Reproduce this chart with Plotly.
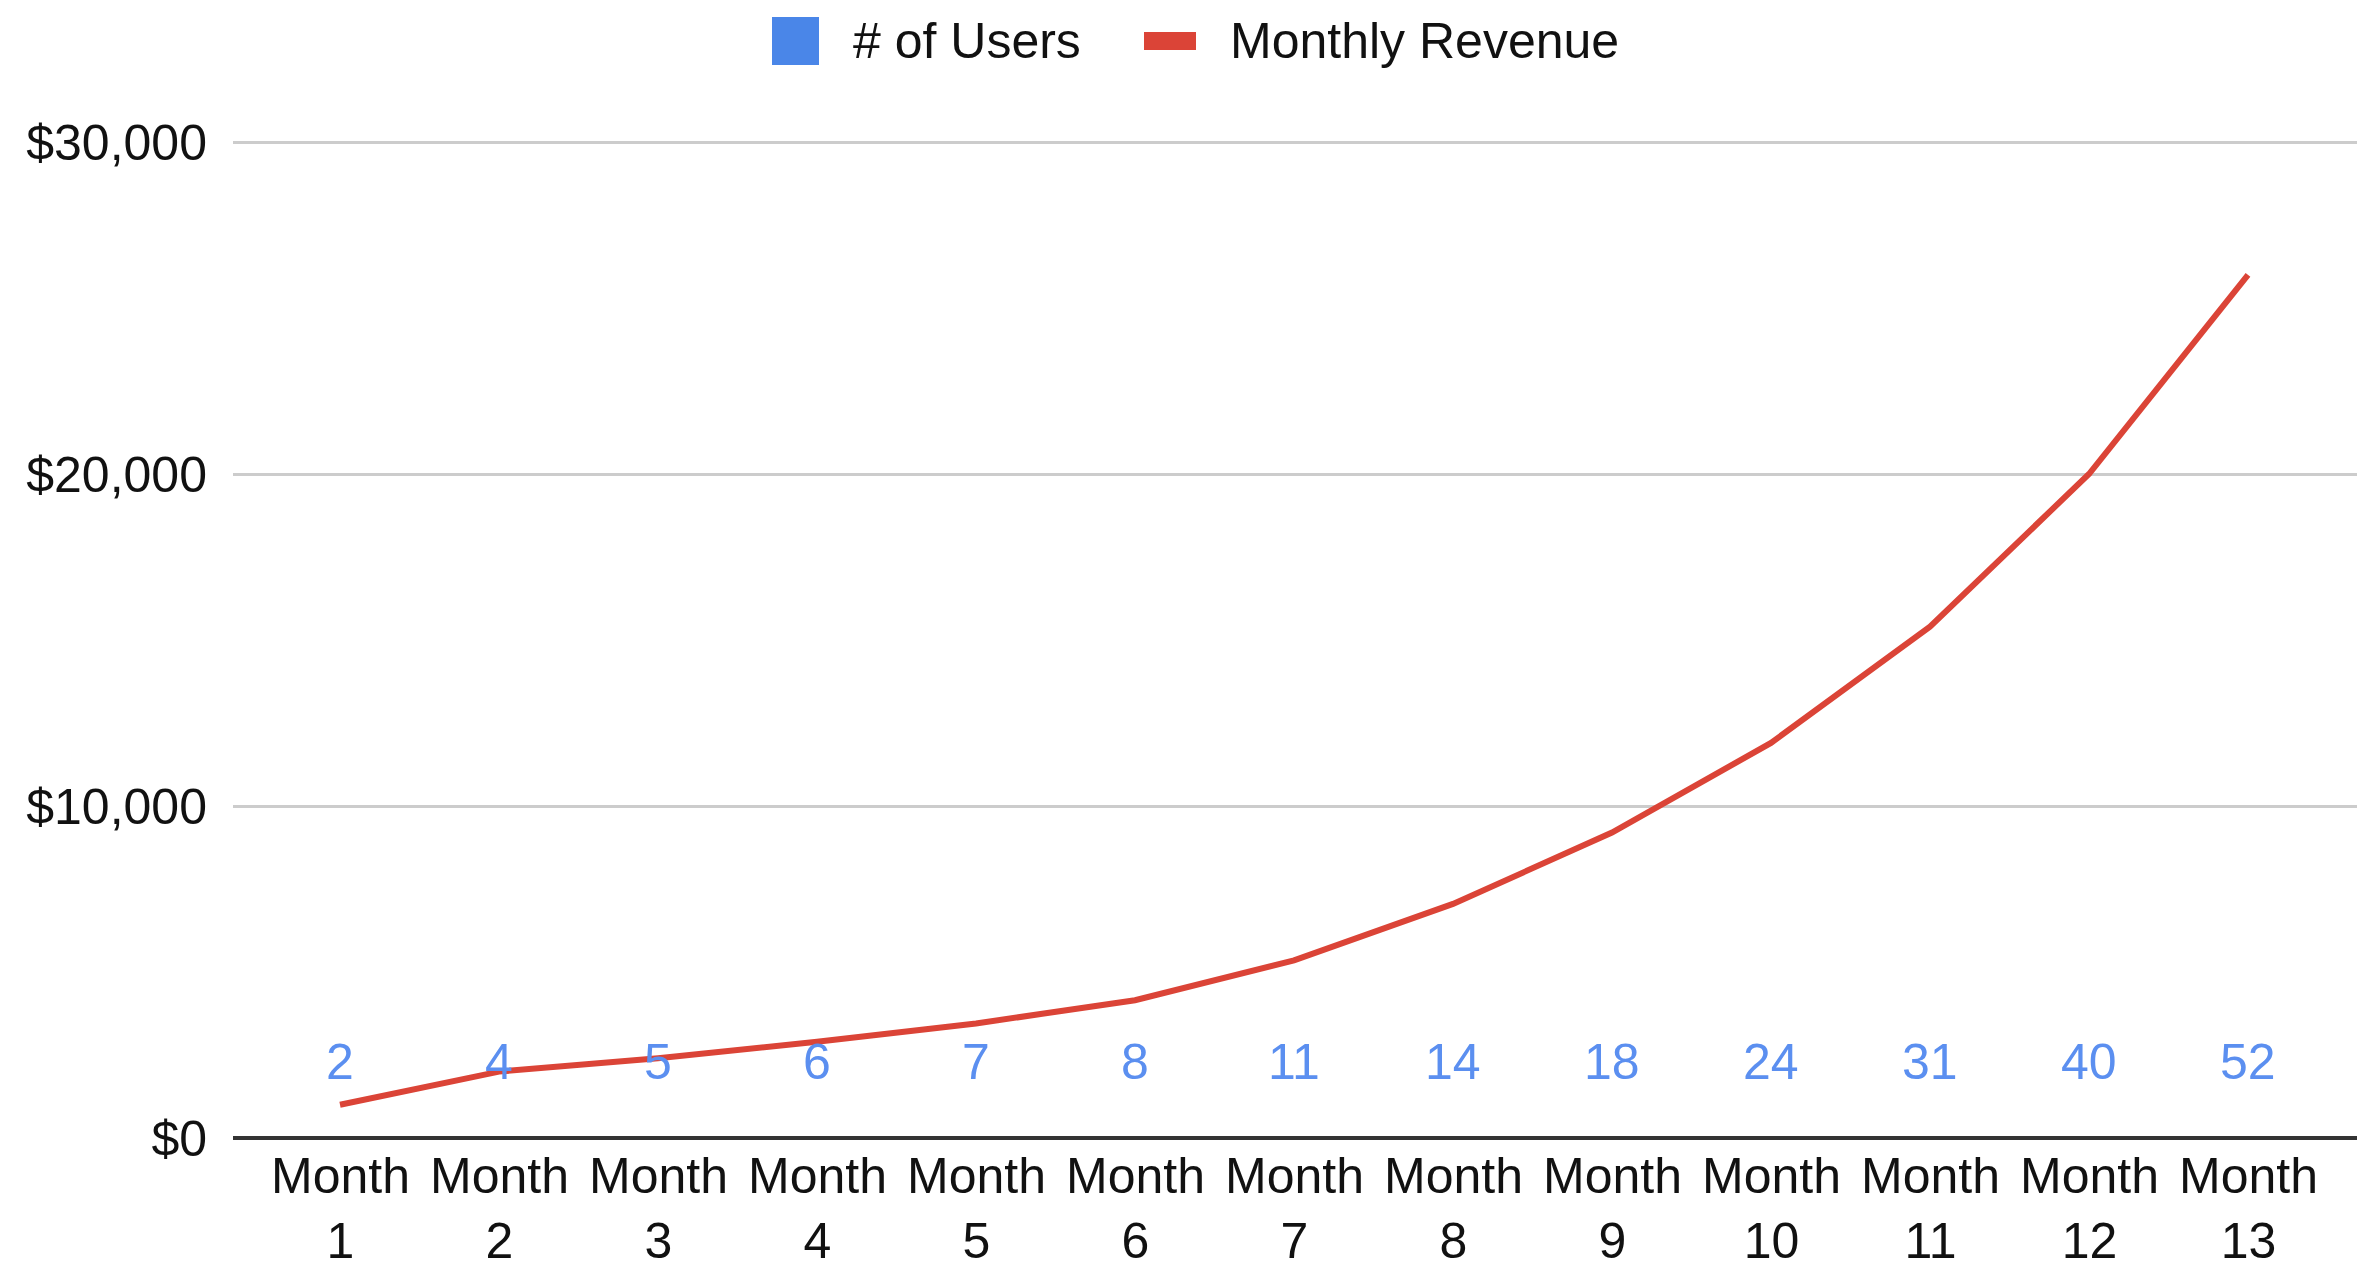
import plotly.graph_objects as go

months = ["Month 1", "Month 2", "Month 3", "Month 4", "Month 5", "Month 6", "Month 7",
          "Month 8", "Month 9", "Month 10", "Month 11", "Month 12", "Month 13"]
month_labels = ["Month<br>1", "Month<br>2", "Month<br>3", "Month<br>4", "Month<br>5",
                "Month<br>6", "Month<br>7", "Month<br>8", "Month<br>9", "Month<br>10",
                "Month<br>11", "Month<br>12", "Month<br>13"]
users = [2, 4, 5, 6, 7, 8, 11, 14, 18, 24, 31, 40, 52]
revenue = [1000, 2000, 2400, 2900, 3450, 4150, 5350, 7050, 9200, 11900, 15400, 20000, 26000]
ytick_vals = [0, 10000, 20000, 30000]
ytick_text = ["$0", "$10,000", "$20,000", "$30,000"]

FONT = "Liberation Sans, Arial, sans-serif"
FS = 50
BLUE = "#4a86e8"
LABEL_BLUE = "#5b8ff0"
RED = "#db4437"
TXT = "#111111"

W, H = 2362, 1275
PLOT_TOP = 132          # slightly above the $30,000 gridline (142)
ZERO = 1138
ML = 233
MR = 5
MT = PLOT_TOP
MB = H - ZERO
PW = W - ML - MR
PH = H - MT - MB
YMAX = 30000 * (ZERO - PLOT_TOP) / (ZERO - 142)
STEP = 159.0            # pixel distance between month categories
FIRST = 340.0           # pixel x of Month 1


def px_x(p):
    return (p - ML) / PW


def px_y(p):
    return (ZERO - p) / PH


fig = go.Figure()
fig.add_trace(go.Bar(x=months, y=users, name="# of Users", marker_color=BLUE,
                     marker_line_width=0, showlegend=False))
fig.add_trace(go.Scatter(x=months, y=revenue, name="Monthly Revenue", mode="lines",
                         line=dict(color=RED, width=6), showlegend=False))

annotations = []
for m, u in zip(months, users):
    annotations.append(dict(x=m, y=0, xref="x", yref="y", text=str(u), showarrow=False,
                            yanchor="middle", yshift=76,
                            font=dict(family=FONT, size=FS, color=LABEL_BLUE)))
for m, lab in zip(months, month_labels):
    annotations.append(dict(x=m, y=0, xref="x", yref="paper", text=lab, showarrow=False,
                            yanchor="middle", yshift=-(1208 - ZERO),
                            font=dict(family=FONT, size=FS, color=TXT)))

# legend (manual)
annotations.append(dict(x=px_x(851), y=px_y(41), xref="paper", yref="paper",
                        text="# of Users", showarrow=False, xanchor="left", yanchor="middle",
                        font=dict(family=FONT, size=FS, color=TXT)))
annotations.append(dict(x=px_x(1228), y=px_y(41), xref="paper", yref="paper",
                        text="Monthly Revenue", showarrow=False, xanchor="left", yanchor="middle",
                        font=dict(family=FONT, size=FS, color=TXT)))

shapes = [
    dict(type="rect", xref="paper", yref="paper", x0=px_x(772), x1=px_x(819),
         y0=px_y(65), y1=px_y(17), fillcolor=BLUE, line=dict(width=0)),
    dict(type="rect", xref="paper", yref="paper", x0=px_x(1144), x1=px_x(1196),
         y0=px_y(50), y1=px_y(32), fillcolor=RED, line=dict(width=0)),
    # baseline drawn above the (tiny) bars
    dict(type="line", xref="paper", yref="y", x0=0, x1=1, y0=0, y1=0, layer="above",
         line=dict(color="#333333", width=4)),
]

x_left = (ML - FIRST) / STEP
x_right = (W - MR - FIRST) / STEP

fig.update_layout(
    width=W, height=H,
    margin=dict(l=ML, r=MR, t=MT, b=MB, pad=0),
    plot_bgcolor="white", paper_bgcolor="white",
    font=dict(family=FONT, size=FS, color=TXT),
    showlegend=False,
    annotations=annotations,
    shapes=shapes,
    bargap=0.3,
)
fig.update_xaxes(type="category", categoryorder="array", categoryarray=months,
                 range=[x_left, x_right], showticklabels=False, showgrid=False,
                 zeroline=False, showline=False, ticks="")
fig.update_yaxes(range=[0, YMAX], tickvals=ytick_vals, ticktext=ytick_text,
                 showgrid=True, gridcolor="#cccccc", gridwidth=3,
                 zeroline=True, zerolinecolor="#333333", zerolinewidth=4,
                 showline=False, ticks="", ticklabelstandoff=25,
                 tickfont=dict(family=FONT, size=FS, color=TXT))

fig.write_html("out.html",
               config={"displayModeBar": False},
               post_script="document.body.style.margin='0';document.body.style.overflow='hidden';")
